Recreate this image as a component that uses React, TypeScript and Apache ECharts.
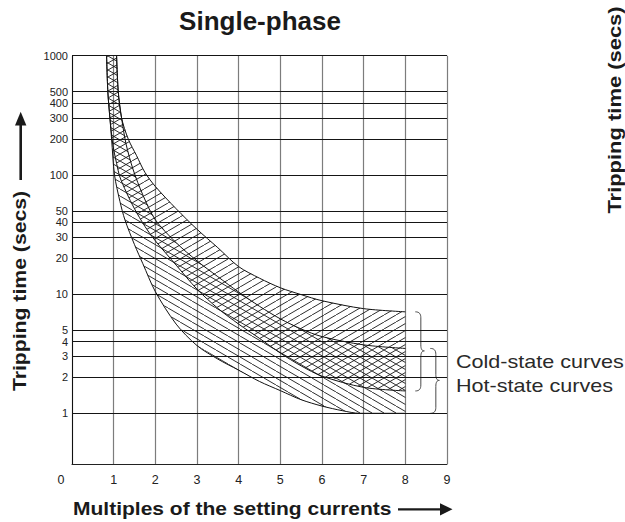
import React, { useEffect, useRef } from "react";
import * as echarts from "echarts";

// ---------- data ----------
const yGridValues = [1, 2, 3, 4, 5, 10, 20, 30, 40, 50, 100, 200, 300, 400, 500, 1000];
const yGridLabels = ["1", "2", "3", "4", "5", "10", "20", "30", "40", "50", "100", "200", "300", "400", "500", "1000"];
const xLabelValues = [0, 1, 2, 3, 4, 5, 6, 7, 8, 9];

// Cold-state band (upper / lower bound)
const coldUpperX = [1.07, 1.11, 1.19, 1.35, 1.55, 1.75, 2.0, 2.5, 3.0, 3.5, 4.0, 4.5, 5.0, 5.5, 6.0, 7.0, 8.0];
const coldUpperT = [1000, 500, 300, 200, 145, 105, 80, 52, 35, 24.5, 17, 13.6, 11.3, 9.9, 8.8, 7.55, 7.1];
const coldLowerX = [0.83, 0.86, 0.91, 0.98, 1.07, 1.15, 1.3, 1.5, 1.75, 2.0, 2.5, 3.0, 3.5, 4.0, 4.5, 5.0, 5.5, 6.0, 7.0, 8.0];
const coldLowerT = [1000, 500, 300, 180, 125, 96, 72, 52, 37, 28, 17.5, 11, 7.6, 5.6, 4.25, 3.2, 2.5, 2.05, 1.65, 1.54];

// Hot-state band (upper / lower bound)
const hotUpperX = [1.07, 1.11, 1.19, 1.3, 1.47, 1.7, 2.0, 2.5, 3.0, 3.5, 4.0, 4.5, 5.0, 5.5, 6.0, 7.0, 8.0];
const hotUpperT = [1000, 500, 300, 180, 110, 68, 42, 27, 19, 14, 10.4, 7.9, 6.2, 5.1, 4.4, 3.75, 3.5];
const hotLowerX = [0.83, 0.86, 0.91, 0.95, 1.02, 1.15, 1.27, 1.5, 1.7, 2.0, 2.5, 3.0, 3.5, 4.0, 4.5, 5.0, 5.5, 6.0, 6.5, 6.9, 7.5, 8.0];
const hotLowerT = [1000, 500, 300, 200, 100, 60, 42, 26, 18, 10.5, 5.6, 3.7, 2.85, 2.3, 1.85, 1.55, 1.3, 1.15, 1.05, 1.0, 1.0, 1.0];

const titleText = "Single-phase";
const yTitle = "Tripping time (secs)";
const xTitle = "Multiples of the setting currents";
const coldLabel = "Cold-state curves";
const hotLabel = "Hot-state curves";

// ---------- helpers ----------
const FONT = '"Liberation Sans", Arial, Helvetica, sans-serif';
const INK = "#1a1a1a";

const Brace = (echarts.graphic as any).extendShape({
  type: "brace",
  shape: { x: 0, y1: 0, y2: 80, w: 9 },
  buildPath(ctx: any, s: any) {
    const x = s.x;
    const m = (s.y1 + s.y2) / 2 - 0.5;
    const v = x + 5.5;
    ctx.moveTo(x, s.y1);
    ctx.bezierCurveTo(x + 4, s.y1, v, s.y1 + 2, v, s.y1 + 6);
    ctx.lineTo(v, m - 6);
    ctx.bezierCurveTo(v, m - 2, x + 6.5, m, x + s.w, m);
    ctx.bezierCurveTo(x + 6.5, m, v, m + 2, v, m + 6);
    ctx.lineTo(v, s.y2 - 6);
    ctx.bezierCurveTo(v, s.y2 - 2, x + 4, s.y2, x, s.y2);
  },
});
(echarts.graphic as any).registerShape("brace", Brace);

function makeHatch(dir: number) {
  const w = 12;
  const h = 7;
  const c = document.createElement("canvas");
  c.width = w;
  c.height = h;
  const ctx = c.getContext("2d")!;
  ctx.strokeStyle = "#161616";
  ctx.lineWidth = 0.9;
  for (let k = -1; k <= 1; k++) {
    ctx.beginPath();
    if (dir > 0) {
      ctx.moveTo(k * w, h);
      ctx.lineTo((k + 1) * w, 0);
    } else {
      ctx.moveTo(k * w, 0);
      ctx.lineTo((k + 1) * w, h);
    }
    ctx.stroke();
  }
  return { image: c.toDataURL(), repeat: "repeat", imageWidth: w, imageHeight: h };
}

function zip(xs: number[], ys: number[]) {
  return xs.map((x, i) => [x, ys[i]]);
}

function bandSeries(ux: number[], ut: number[], lx: number[], lt: number[], fill: any, braceGap: number) {
  return {
    type: "custom",
    coordinateSystem: "cartesian2d",
    silent: true,
    clip: true,
    z: 1,
    data: [[ux[ux.length - 1], ut[ut.length - 1]]],
    renderItem: (_params: any, api: any) => {
      const pts: number[][] = [];
      for (let i = 0; i < ux.length; i++) pts.push(api.coord([ux[i], ut[i]]));
      for (let i = lx.length - 1; i >= 0; i--) pts.push(api.coord([lx[i], lt[i]]));
      const top = api.coord([ux[ux.length - 1], ut[ut.length - 1]]);
      const bot = api.coord([lx[lx.length - 1], lt[lt.length - 1]]);
      return {
        type: "group",
        children: [
          { type: "polygon", shape: { points: pts }, style: { fill, stroke: null } },
          {
            type: "brace",
            shape: { x: top[0] + braceGap, y1: top[1], y2: bot[1], w: 9 },
            style: { fill: null, stroke: "#4a4a4a", lineWidth: 1 },
          },
        ],
      };
    },
  };
}

function curveSeries(xs: number[], ts: number[], extra: any = {}) {
  return {
    type: "line",
    data: zip(xs, ts),
    showSymbol: false,
    symbol: "none",
    smooth: 0.3,
    silent: true,
    clip: true,
    z: 3,
    lineStyle: { color: "#111", width: 1 },
    ...extra,
  };
}

export default function App() {
  const ref = useRef<HTMLDivElement>(null);
  useEffect(() => {
    document.body.style.margin = "0";
    const chart = echarts.init(ref.current!, null, { renderer: "svg" });
    const slash = makeHatch(1);
    const back = makeHatch(-1);

    const textStyle = (t: string, size: number, weight: string, align: string, color = INK) => ({
      text: t,
      fontSize: size,
      fontWeight: weight,
      fontFamily: FONT,
      fill: color,
      textAlign: align,
      verticalAlign: "middle",
      textVerticalAlign: "middle",
    });

    const option: any = {
      animation: false,
      grid: {
        left: 72,
        top: 55.7,
        width: 375,
        height: 408.3,
        containLabel: false,
        outerBoundsMode: "none",
      },
      xAxis: {
        type: "value",
        min: 0,
        max: 9,
        interval: 1,
        axisLine: { show: true, lineStyle: { color: "#222", width: 1 } },
        axisTick: { show: false },
        splitLine: { show: true, lineStyle: { color: "#7c7c7c", width: 1.2 } },
        axisLabel: {
          show: true,
          margin: 9,
          fontSize: 12.5,
          fontFamily: FONT,
          color: "#222",
          formatter: (v: number) => (v === xLabelValues[0] ? "{z|" + v + "}" : String(v)),
          rich: { z: { padding: [0, 22, 0, 0], fontSize: 12.5, fontFamily: FONT, color: "#222" } },
        },
      },
      yAxis: {
        type: "log",
        logBase: 10,
        min: 0.3756,
        max: 1000,
        axisLine: { show: true, lineStyle: { color: "#111", width: 1 } },
        axisTick: { show: false },
        axisLabel: { show: false },
        splitLine: { show: false },
      },
      series: [
        bandSeries(coldUpperX, coldUpperT, coldLowerX, coldLowerT, slash, 10),
        bandSeries(hotUpperX, hotUpperT, hotLowerX, hotLowerT, back, 25),
        curveSeries(coldUpperX, coldUpperT, {
          markLine: {
            silent: true,
            symbol: ["none", "none"],
            animation: false,
            lineStyle: { color: "#151515", width: 1, type: "solid" },
            label: {
              show: true,
              position: "start",
              distance: 4,
              color: "#222",
              fontSize: 11,
              lineHeight: 11,
              fontFamily: FONT,
            },
            emphasis: { disabled: true },
            data: yGridValues.map((v, i) => ({
              yAxis: v,
              label: { formatter: yGridLabels[i] },
            })),
          },
        }),
        curveSeries(coldLowerX, coldLowerT),
        curveSeries(hotUpperX, hotUpperT),
        curveSeries(hotLowerX, hotLowerT),
      ],
      graphic: [
        { type: "text", x: 260, y: 21, scaleX: 1.04, style: textStyle(titleText, 25, "bold", "center") },
        {
          type: "text",
          x: 19,
          y: 291,
          rotation: Math.PI / 2,
          scaleX: 1.14,
          style: textStyle(yTitle, 18.6, "bold", "center"),
        },
        { type: "line", shape: { x1: 20.7, y1: 180, x2: 20.7, y2: 124 }, style: { stroke: INK, lineWidth: 2.6 } },
        { type: "polygon", shape: { points: [[15, 125.5], [20.7, 111.7], [26.4, 125.5]] }, style: { fill: INK } },
        { type: "text", x: 73, y: 508, scaleX: 1.13, style: textStyle(xTitle, 18.6, "bold", "left") },
        { type: "line", shape: { x1: 398, y1: 509.3, x2: 441, y2: 509.3 }, style: { stroke: INK, lineWidth: 2.2 } },
        { type: "polygon", shape: { points: [[440, 503.3], [452.5, 509.3], [440, 515.5]] }, style: { fill: INK } },
        { type: "text", x: 456, y: 362, scaleX: 1.16, style: textStyle(coldLabel, 18.6, "normal", "left", "#2a2a2a") },
        { type: "text", x: 456, y: 386, scaleX: 1.16, style: textStyle(hotLabel, 18.6, "normal", "left", "#2a2a2a") },
        {
          type: "text",
          x: 615,
          y: 110,
          rotation: Math.PI / 2,
          scaleX: 1.18,
          style: textStyle(yTitle, 18.6, "bold", "center"),
        },
      ],
    };
    chart.setOption(option);
    return () => chart.dispose();
  }, []);
  return <div ref={ref} style={{ width: 625, height: 522 }} />;
}
